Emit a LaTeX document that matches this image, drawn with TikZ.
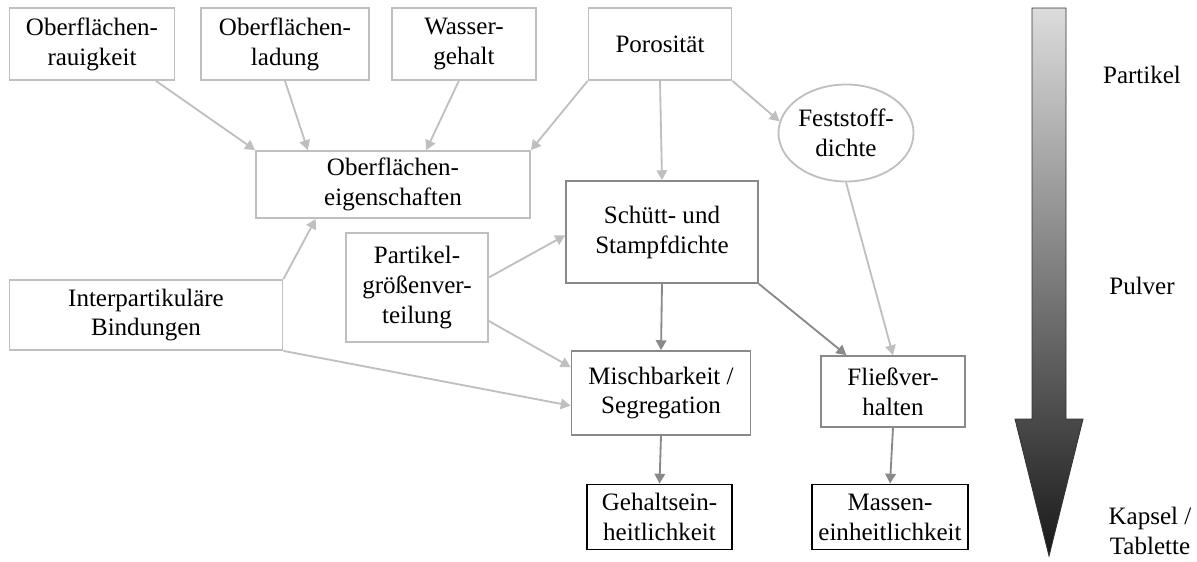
\documentclass[tikz,border=0pt]{standalone}
\usepackage{fontspec}
\setmainfont{Liberation Serif}
\usetikzlibrary{arrows.meta,shapes.geometric}
\definecolor{lightgr}{RGB}{191,191,191}
\definecolor{midgr}{RGB}{137,137,137}
\definecolor{toparrow}{RGB}{220,220,220}
\definecolor{botarrow}{RGB}{25,25,25}
\newcommand{\px}{0.025cm}

\begin{document}
\begin{tikzpicture}[x=\px,y=-\px,
  >={Triangle[length=7pt,width=7.5pt]},
  every node/.style={font=\fontsize{17.8}{21.3}\selectfont,align=center,inner sep=0pt},
  lbox/.style={draw=lightgr,line width=1.3pt},
  mbox/.style={draw=midgr,line width=1.3pt},
  kbox/.style={draw=black,line width=1.3pt},
  larr/.style={->,draw=lightgr,line width=1.3pt},
  marr/.style={->,draw=midgr,line width=1.3pt}]
\useasboundingbox (0,0) rectangle (1197,561);
\node[lbox,minimum width=165*\px,minimum height=72*\px] (rau) at (92,44) {Oberflächen-\\rauigkeit};
\node[lbox,minimum width=168*\px,minimum height=72*\px] (lad) at (285,44) {Oberflächen-\\ladung};
\node[lbox,minimum width=144*\px,minimum height=72*\px] (was) at (464,44) {Wasser-\\gehalt};
\node[lbox,minimum width=143*\px,minimum height=72*\px] (por) at (660,44) {Porosität};
\node[lbox,ellipse,minimum width=134*\px,minimum height=97*\px] (fest) at (846,133) {Feststoff-\\dichte};
\node[lbox,minimum width=274*\px,minimum height=67*\px] (oeig) at (393,184.5) {Oberflächen-\\eigenschaften};
\node[lbox,minimum width=142*\px,minimum height=109*\px] (pgv) at (417,287.5) {Partikel-\\größenver-\\teilung};
\node[lbox,minimum width=273*\px,minimum height=70*\px] (ipb) at (146,315) {Interpartikuläre\\Bindungen};
\node[mbox,minimum width=192*\px,minimum height=102*\px] (sdi) at (662,232) {Schütt- und\\Stampfdichte};
\node[mbox,minimum width=179*\px,minimum height=84*\px] (misch) at (661,393) {Mischbarkeit /\\Segregation};
\node[mbox,minimum width=144*\px,minimum height=71*\px] (fliess) at (893,391.5) {Fließver-\\halten};
\node[kbox,minimum width=145*\px,minimum height=65*\px] (geh) at (659.5,517) {Gehaltsein-\\heitlichkeit};
\node[kbox,minimum width=156*\px,minimum height=65*\px] (mas) at (890,517) {Massen-\\einheitlichkeit};

\draw[larr] (rau.-30) -- (oeig.north west);
\draw[larr] (lad.south) -- (oeig.158);
\draw[larr] (was.-98) -- (oeig.46);
\draw[larr] (por.south west) -- (oeig.north east);
\draw[larr] (por.south) -- (sdi.north);
\draw[larr] (por.south east) -- (fest.170);
\draw[larr] (fest.south) -- (fliess.north);
\draw[larr] (ipb.north east) -- (oeig.204);
\draw[larr] (ipb.south east) -- (misch.188);
\draw[larr] (pgv.8) -- (sdi.182);
\draw[larr] (pgv.-25) -- (misch.164);
\draw[marr] (sdi.south) -- (misch.north);
\draw[marr] (sdi.south east) -- (fliess.142);
\draw[marr] (misch.south) -- (geh.north);
\draw[marr] (fliess.south) -- (mas.north);

\shade[top color=toparrow,bottom color=botarrow,draw=black!80,line width=0.6pt] (1032,8) -- (1066,8) -- (1066,419) -- (1083,419) -- (1049,556) -- (1015,419) -- (1032,419) -- cycle;
\node (part) at (1142,75) {Partikel};
\node (pulv) at (1142,286) {Pulver};
\node (kap) at (1150,531) {Kapsel /\\Tablette};
\end{tikzpicture}
\end{document}
